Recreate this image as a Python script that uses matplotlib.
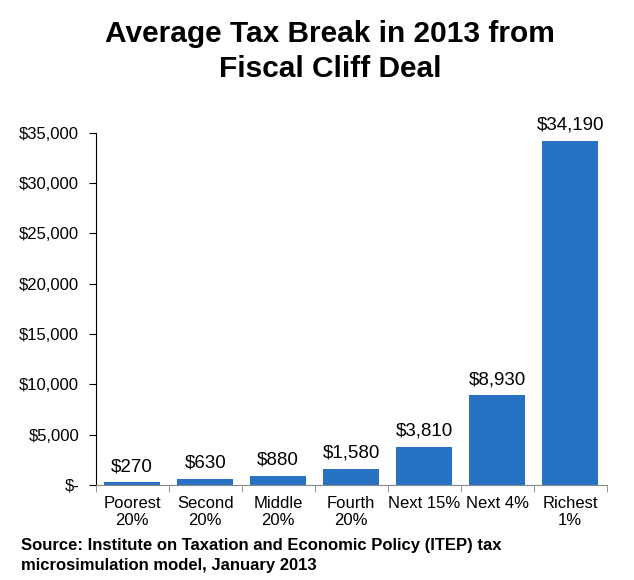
import matplotlib.pyplot as plt
import numpy as np

plt.rcParams['font.family'] = ['Liberation Sans', 'DejaVu Sans']

groups = ["Poorest\n20%", "Second\n20%", "Middle\n20%", "Fourth\n20%", "Next 15%", "Next 4%", "Richest\n1%"]
tax_break = [270, 630, 880, 1580, 3810, 8930, 34190]
yticks = [0, 5000, 10000, 15000, 20000, 25000, 30000, 35000]

fig = plt.figure(figsize=(6.34, 5.8), dpi=100)
ax = fig.add_axes([0.151, 0.164, 0.806, 0.607])

x = np.arange(len(groups))
bars = ax.bar(x, tax_break, width=0.77, color='#2872c4')

for xi, v in zip(x, tax_break):
    ax.text(xi, v + 700, f"${v:,}", ha='center', va='bottom', fontsize=13.5)

ax.set_xlim(-0.5, len(groups) - 0.5)
ax.set_ylim(0, 35000)
ax.set_yticks(yticks)
ax.set_yticklabels(["$-" if t == 0 else f"${t:,}" for t in yticks], fontsize=12)

ax.set_xticks(x)
ax.set_xticklabels(groups, fontsize=12)
ax.tick_params(axis='x', length=0, pad=8)
ax.set_xticks(np.arange(-0.5, len(groups)), minor=True)
ax.tick_params(axis='x', which='minor', length=5, direction='out', color='#888888')
ax.tick_params(axis='y', length=5, direction='out', pad=7)

for s in ['top', 'right']:
    ax.spines[s].set_visible(False)
ax.spines['bottom'].set_color('#888888')

fig.text(0.521, 0.965, "Average Tax Break in 2013 from\nFiscal Cliff Deal", ha='center', va='top',
         fontsize=21.5, fontweight='bold', linespacing=1.3)
fig.text(0.033, 0.073, "Source: Institute on Taxation and Economic Policy (ITEP) tax\nmicrosimulation model, January 2013",
         ha='left', va='top', fontsize=12, fontweight='bold', linespacing=1.45)

fig.savefig('out.png', dpi=100)
